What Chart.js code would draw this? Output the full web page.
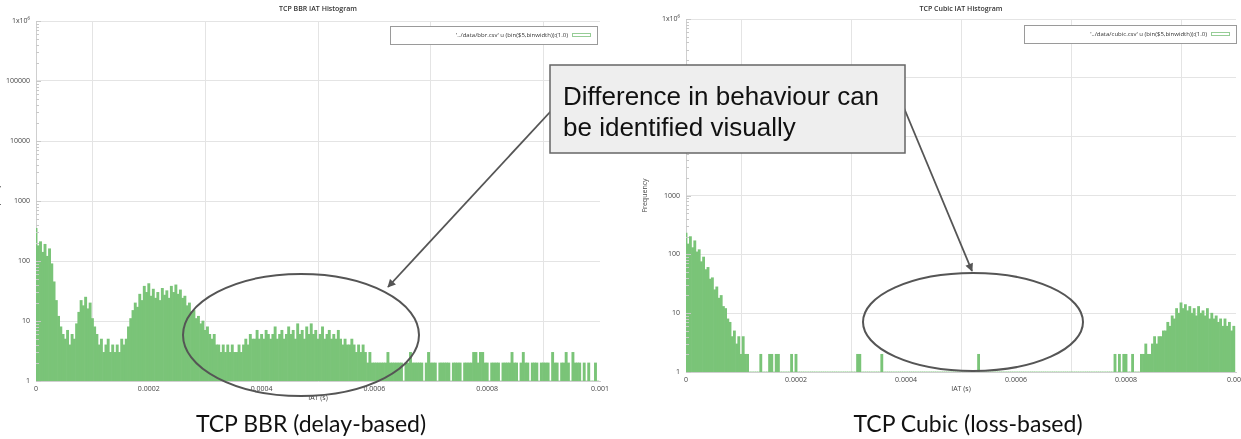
<!DOCTYPE html>
<html>
<head>
<meta charset="utf-8">
<script src="https://cdn.jsdelivr.net/npm/chart.js@4.4.1/dist/chart.umd.min.js"></script>
<style>
  html, body { margin: 0; padding: 0; background: #ffffff; overflow: hidden; }
  #stage { position: relative; width: 1241px; height: 439px; overflow: hidden; background: #ffffff; }
  canvas { position: absolute; top: 0; }
  #bbrChart { left: 0; }
  #cubicChart { left: 640px; }
  #overlay { position: absolute; left: 0; top: 0; }
</style>
</head>
<body>
<div id="stage">
  <canvas id="bbrChart" width="630" height="410"></canvas>
  <canvas id="cubicChart" width="620" height="410"></canvas>
  <svg id="overlay" width="1241" height="439" viewBox="0 0 1241 439" xmlns="http://www.w3.org/2000/svg">
    <defs>
      <marker id="arrowHead" viewBox="0 0 10 10" refX="9" refY="5" markerWidth="5" markerHeight="4.5" orient="auto">
        <path d="M0,0 L10,5 L0,10 z" fill="#555555"/>
      </marker>
    </defs>
    <ellipse cx="301" cy="335" rx="118" ry="61" fill="none" stroke="#555555" stroke-width="2"/>
    <ellipse cx="973" cy="322" rx="110" ry="49" fill="none" stroke="#555555" stroke-width="2"/>
    <line x1="551" y1="111" x2="388" y2="287" stroke="#555555" stroke-width="1.8" marker-end="url(#arrowHead)"/>
    <line x1="904" y1="108" x2="972" y2="271" stroke="#555555" stroke-width="1.8" marker-end="url(#arrowHead)"/>
    <rect x="550" y="65" width="355" height="88" fill="#eeeeee" stroke="#666666" stroke-width="1.5"/>
    <text x="563" y="105" font-family="Liberation Sans, Arial, sans-serif" font-size="26" fill="#111111">Difference in behaviour can</text>
    <text x="563" y="136" font-family="Liberation Sans, Arial, sans-serif" font-size="26" fill="#111111">be identified visually</text>
    <text x="311" y="432" text-anchor="middle" font-family="Lato, sans-serif" font-size="23" fill="#111111">TCP BBR (delay-based)</text>
    <text x="968" y="432" text-anchor="middle" font-family="Lato, sans-serif" font-size="23" fill="#111111">TCP Cubic (loss-based)</text>
  </svg>
</div>
<script>
// Inter-arrival-time histograms, 4 microsecond bins from 0 to 1 ms.
const binWidth = 0.000004;

const xTickValues = [0, 0.0002, 0.0004, 0.0006, 0.0008, 0.001];
const xTickLabels = ['0', '0.0002', '0.0004', '0.0006', '0.0008', '0.001'];
const yTickValues = [1, 10, 100, 1000, 10000, 100000, 1000000];
const yTickLabels = ['1', '10', '100', '1000', '10000', '100000', '1x10\u2076'];

// Packet counts per bin, TCP BBR
const bbrCounts = [
  350, 180, 210, 140, 190, 120, 160, 90, 45, 22,
  12, 8, 6, 5, 7, 4, 6, 5, 9, 14,
  22, 18, 25, 16, 20, 11, 8, 6, 4, 5,
  3, 4, 5, 3, 4, 3, 4, 3, 5, 4,
  5, 8, 11, 15, 20, 17, 28, 22, 38, 30,
  42, 26, 34, 24, 30, 22, 35, 27, 32, 24,
  38, 30, 40, 28, 33, 24, 26, 18, 20, 14,
  15, 11, 12, 9, 10, 7, 8, 6, 5, 6,
  4, 4, 3, 4, 3, 4, 3, 4, 3, 3,
  4, 3, 4, 5, 4, 6, 5, 5, 7, 5,
  6, 5, 7, 6, 5, 6, 8, 5, 6, 7,
  5, 6, 8, 6, 7, 5, 9, 6, 7, 5,
  8, 6, 9, 6, 7, 5, 6, 8, 5, 6,
  7, 5, 6, 5, 7, 5, 4, 5, 4, 4,
  5, 4, 3, 4, 3, 4, 3, 2, 3, 2,
  2, 2, 2, 2, 2, 2, 3, 2, 2, 2,
  2, 2, 2, 1, 2, 2, 3, 2, 2, 2,
  2, 2, 1, 2, 3, 2, 2, 2, 1, 2,
  2, 2, 2, 2, 1, 2, 2, 2, 2, 1,
  2, 2, 2, 2, 3, 3, 2, 3, 3, 2,
  2, 1, 2, 2, 2, 2, 1, 2, 2, 2,
  2, 3, 2, 2, 1, 2, 3, 2, 2, 1,
  2, 2, 2, 1, 2, 2, 2, 2, 1, 3,
  2, 2, 1, 2, 2, 3, 2, 1, 3, 2,
  2, 2, 1, 2, 1, 2, 1, 1, 2, 1
];

// Packet counts per bin, TCP Cubic
const cubicCounts = [
  230, 150, 200, 130, 170, 110, 120, 75, 90, 55,
  60, 38, 40, 25, 28, 18, 20, 13, 12, 8,
  7, 4, 5, 3, 4, 2, 4, 2, 2, 1,
  0, 0, 0, 0, 2, 0, 0, 0, 2, 2,
  0, 2, 2, 0, 0, 0, 0, 0, 2, 0,
  2, 0, 0, 0, 0, 0, 0, 0, 0, 0,
  0, 0, 0, 0, 0, 0, 0, 0, 0, 0,
  0, 0, 0, 0, 0, 0, 0, 0, 2, 2,
  0, 0, 0, 0, 0, 0, 0, 0, 0, 2,
  0, 0, 0, 0, 0, 0, 0, 0, 0, 0,
  0, 0, 0, 0, 0, 0, 0, 0, 0, 0,
  0, 0, 0, 0, 0, 0, 0, 0, 0, 0,
  0, 0, 0, 0, 0, 0, 0, 0, 0, 0,
  0, 0, 0, 2, 0, 0, 0, 0, 0, 0,
  0, 0, 0, 0, 0, 0, 0, 0, 0, 0,
  0, 0, 0, 0, 0, 0, 0, 0, 0, 0,
  0, 0, 0, 0, 0, 0, 0, 0, 0, 0,
  0, 0, 0, 0, 0, 0, 0, 0, 0, 0,
  0, 0, 0, 0, 0, 0, 0, 0, 0, 0,
  0, 0, 0, 0, 0, 2, 0, 2, 0, 2,
  2, 0, 0, 2, 0, 0, 0, 2, 2, 3,
  2, 2, 3, 4, 3, 4, 4, 5, 5, 7,
  6, 9, 8, 12, 10, 15, 12, 14, 11, 13,
  10, 12, 9, 13, 10, 11, 9, 12, 8, 10,
  8, 9, 7, 8, 6, 8, 6, 7, 5, 6
];

const barGreen = 'rgb(122, 196, 120)';
const gridGrey = '#e4e4e4';
const axisGrey = '#cfcfcf';
const labelGrey = '#444444';
const plotFont = 'Open Sans, Lato, sans-serif';

function toPoints(counts) {
  return counts.map((c, i) => ({ x: i * binWidth, y: c }));
}

// Titles, axis names, legend box and minor log ticks drawn in gnuplot style
const gnuplotFrame = {
  id: 'gnuplotFrame',
  afterDatasetsDraw(chart, args, opts) {
    const ctx = chart.ctx;
    const a = chart.chartArea;
    const y = chart.scales.y;
    ctx.save();
    // minor ticks on the log axis
    ctx.strokeStyle = '#c8c8c8';
    ctx.lineWidth = 1;
    for (let d = 0; d < 6; d++) {
      for (let m = 2; m <= 9; m++) {
        const py = Math.round(y.getPixelForValue(m * Math.pow(10, d))) + 0.5;
        ctx.beginPath();
        ctx.moveTo(a.left, py);
        ctx.lineTo(a.left + 3, py);
        ctx.stroke();
      }
    }
    for (const v of yTickValues) {
      const py = Math.round(y.getPixelForValue(v)) + 0.5;
      ctx.beginPath();
      ctx.moveTo(a.left, py);
      ctx.lineTo(a.left + 5, py);
      ctx.stroke();
    }
    const cx = (a.left + a.right) / 2;
    // title
    ctx.fillStyle = '#333333';
    ctx.textAlign = 'center';
    ctx.textBaseline = 'middle';
    ctx.font = '600 7px ' + plotFont;
    ctx.fillText(opts.title, cx, 9);
    // axis names
    ctx.font = '7px ' + plotFont;
    ctx.fillStyle = labelGrey;
    ctx.fillText('IAT (s)', cx, a.bottom + 17);
    ctx.save();
    ctx.translate(opts.yNameX, (a.top + a.bottom) / 2);
    ctx.rotate(-Math.PI / 2);
    ctx.fillText('Frequency', 0, 0);
    ctx.restore();
    // legend box
    const lg = opts.legend;
    ctx.fillStyle = '#ffffff';
    ctx.fillRect(lg.x, lg.y, lg.w, lg.h);
    ctx.strokeStyle = '#9a9a9a';
    ctx.strokeRect(lg.x + 0.5, lg.y + 0.5, lg.w, lg.h);
    ctx.strokeStyle = 'rgb(150, 205, 150)';
    ctx.strokeRect(lg.x + lg.w - 24.5, lg.y + lg.h / 2 - 1.5, 18, 3);
    ctx.fillStyle = '#333333';
    ctx.textAlign = 'right';
    ctx.font = '6px ' + plotFont;
    ctx.fillText(opts.legendText, lg.x + lg.w - 29, lg.y + lg.h / 2 + 0.5);
    ctx.restore();
  }
};

function makeChart(id, counts, cfg) {
  return new Chart(document.getElementById(id), {
    type: 'bar',
    data: {
      datasets: [{
        data: toPoints(counts),
        backgroundColor: barGreen,
        borderWidth: 0,
        barPercentage: 1,
        categoryPercentage: 1,
        grouped: false
      }]
    },
    options: {
      responsive: false,
      animation: false,
      events: [],
      layout: { padding: { left: 0, top: cfg.top, right: cfg.right, bottom: 0 } },
      plugins: {
        legend: { display: false },
        tooltip: { enabled: false },
        title: { display: false },
        gnuplotFrame: cfg.frame
      },
      scales: {
        x: {
          type: 'linear',
          min: 0,
          max: 0.001,
          offset: false,
          afterBuildTicks: s => { s.ticks = xTickValues.map(v => ({ value: v })); },
          afterFit: s => { s.height = cfg.xAxisHeight; },
          ticks: {
            autoSkip: false,
            maxRotation: 0,
            padding: 4,
            color: labelGrey,
            font: { family: plotFont, size: 7 },
            callback: v => xTickLabels[xTickValues.findIndex(t => Math.abs(t - v) < 1e-9)]
          },
          grid: { color: gridGrey, drawTicks: false },
          border: { color: axisGrey }
        },
        y: {
          type: 'logarithmic',
          min: 1,
          max: 1000000,
          afterBuildTicks: s => { s.ticks = yTickValues.map(v => ({ value: v })); },
          afterFit: s => { s.width = cfg.yAxisWidth; },
          ticks: {
            padding: 6,
            color: labelGrey,
            font: { family: plotFont, size: 7 },
            callback: v => yTickLabels[yTickValues.indexOf(v)]
          },
          grid: { color: gridGrey, drawTicks: false },
          border: { color: axisGrey }
        }
      }
    },
    plugins: [gnuplotFrame]
  });
}

makeChart('bbrChart', bbrCounts, {
  top: 21, right: 30, xAxisHeight: 29, yAxisWidth: 36,
  frame: {
    title: 'TCP BBR IAT Histogram',
    yNameX: -3,
    legend: { x: 390, y: 26, w: 207, h: 18 },
    legendText: "'../data/bbr.csv' u (bin($5,binwidth)):(1.0)"
  }
});

makeChart('cubicChart', cubicCounts, {
  top: 19, right: 24, xAxisHeight: 38, yAxisWidth: 46,
  frame: {
    title: 'TCP Cubic IAT Histogram',
    yNameX: 5,
    legend: { x: 384, y: 25, w: 212, h: 18 },
    legendText: "'../data/cubic.csv' u (bin($5,binwidth)):(1.0)"
  }
});
</script>
</body>
</html>
